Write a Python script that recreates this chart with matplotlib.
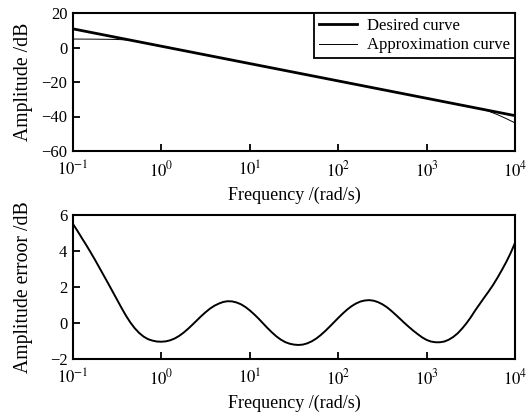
import matplotlib
matplotlib.use("Agg")
import matplotlib.pyplot as plt
from matplotlib.ticker import FixedLocator, NullLocator, FixedFormatter

plt.rcParams['font.family'] = ['Liberation Serif', 'DejaVu Serif']
plt.rcParams['mathtext.fontset'] = 'stix'
plt.rcParams['axes.unicode_minus'] = True

# ---- data ----
# desired curve (dB) at decade frequencies
desired_exp = [-1, 0, 1, 2, 3, 4]
desired_db = [10.8, 0.74, -9.32, -19.38, -29.44, -39.5]

# approximation curve (dB)
approx_exp = [-1.0, -0.8, -0.6, -0.5, -0.4, -0.3, -0.2, 0.0, 1.0, 2.0, 3.0,
              3.5, 3.6, 3.65, 3.7, 3.8, 3.9, 4.0]
approx_db = [4.9, 4.85, 4.75, 4.65, 4.4, 3.7, 2.8, 0.74, -9.32, -19.38, -29.44,
             -34.47, -35.5, -36.0, -36.9, -38.9, -41.2, -43.7]

# amplitude error (dB)
err_exp = [-1.0, -0.95, -0.9, -0.85, -0.8, -0.75, -0.7, -0.65, -0.6, -0.55,
           -0.5, -0.45, -0.4, -0.35, -0.3, -0.25, -0.2, -0.15, -0.1, -0.05,
           0.0, 0.05, 0.1, 0.15, 0.2, 0.25, 0.3, 0.35, 0.4, 0.45,
           0.5, 0.55, 0.6, 0.65, 0.7, 0.75, 0.8, 0.85, 0.9, 0.95,
           1.0, 1.05, 1.1, 1.15, 1.2, 1.25, 1.3, 1.35, 1.4, 1.45,
           1.5, 1.55, 1.6, 1.65, 1.7, 1.75, 1.8, 1.85, 1.9, 1.95,
           2.0, 2.05, 2.1, 2.15, 2.2, 2.25, 2.3, 2.35, 2.4, 2.45,
           2.5, 2.55, 2.6, 2.65, 2.7, 2.75, 2.8, 2.85, 2.9, 2.95,
           3.0, 3.05, 3.1, 3.15, 3.2, 3.25, 3.3, 3.35, 3.4, 3.45,
           3.5, 3.55, 3.6, 3.65, 3.7, 3.75, 3.8, 3.85, 3.9, 3.95, 4.0]
err_db = [5.5, 5.12, 4.72, 4.33, 3.92, 3.5, 3.06, 2.62, 2.18, 1.73,
          1.28, 0.83, 0.4, 0.02, -0.3, -0.56, -0.76, -0.9, -0.98, -1.03,
          -1.04, -1.02, -0.96, -0.86, -0.72, -0.54, -0.33, -0.1, 0.14, 0.38,
          0.6, 0.8, 0.96, 1.08, 1.17, 1.21, 1.2, 1.14, 1.04, 0.89,
          0.7, 0.48, 0.24, -0.02, -0.28, -0.52, -0.74, -0.92, -1.06, -1.15,
          -1.2, -1.22, -1.2, -1.13, -1.02, -0.87, -0.68, -0.46, -0.22, 0.03,
          0.28, 0.52, 0.74, 0.93, 1.08, 1.19, 1.25, 1.27, 1.24, 1.16,
          1.04, 0.88, 0.68, 0.46, 0.23, 0.0, -0.22, -0.43, -0.62, -0.8,
          -0.94, -1.03, -1.07, -1.07, -1.03, -0.93, -0.78, -0.58, -0.32, -0.02,
          0.32, 0.7, 1.05, 1.4, 1.74, 2.1, 2.5, 2.93, 3.38, 3.88, 4.45]

xtick_vals = [1e-1, 1e0, 1e1, 1e2, 1e3, 1e4]
xtick_labels = [r'$10^{-1}$', r'$10^{0}$', r'$10^{1}$', r'$10^{2}$', r'$10^{3}$', r'$10^{4}$']
top_yticks = [-60, -40, -20, 0, 20]
bot_yticks = [-2, 0, 2, 4, 6]

desired_f = [10 ** e for e in desired_exp]
approx_f = [10 ** e for e in approx_exp]
err_f = [10 ** e for e in err_exp]

fig = plt.figure(figsize=(5.32, 4.18), dpi=100)
W, H = 532, 418
ax1 = fig.add_axes([73 / W, 1 - 151 / H, 442 / W, 138 / H])
ax2 = fig.add_axes([73 / W, 1 - 359 / H, 442 / W, 144 / H])

ax1.plot(desired_f, desired_db, color='black', lw=2.0, label='Desired curve')
ax1.plot(approx_f, approx_db, color='black', lw=0.7, label='Approximation curve')
ax2.plot(err_f, err_db, color='black', lw=1.4)

for ax, yt, ylim, ylab in ((ax1, top_yticks, (-60, 20), 'Amplitude /dB'),
                           (ax2, bot_yticks, (-2, 6), 'Amplitude erroor /dB')):
    ax.set_xscale('log')
    ax.set_xlim(1e-1, 1e4)
    ax.set_ylim(*ylim)
    ax.xaxis.set_major_locator(FixedLocator(xtick_vals))
    ax.xaxis.set_major_formatter(FixedFormatter(xtick_labels))
    ax.xaxis.set_minor_locator(NullLocator())
    ax.set_yticks(yt)
    ax.tick_params(direction='in', length=5, width=1.3, labelsize=12,
                   top=False, right=False)
    ax.tick_params(axis='x', pad=7)
    ax.tick_params(axis='y', pad=4)
    for s in ax.spines.values():
        s.set_linewidth(1.5)
    ax.set_xlabel('Frequency /(rad/s)', fontsize=13, labelpad=4)
    ax.set_ylabel(ylab, fontsize=14.2)
    ax.yaxis.set_label_coords(-0.09, 0.5)

leg = ax1.legend(loc='upper right', fontsize=12, frameon=True, fancybox=False,
                 edgecolor='black', borderaxespad=0, handlelength=2.3,
                 handletextpad=0.6, borderpad=0.3, labelspacing=0.2)
leg.get_frame().set_linewidth(1.3)
leg.get_frame().set_alpha(1)

fig.savefig('out.png', dpi=100)
